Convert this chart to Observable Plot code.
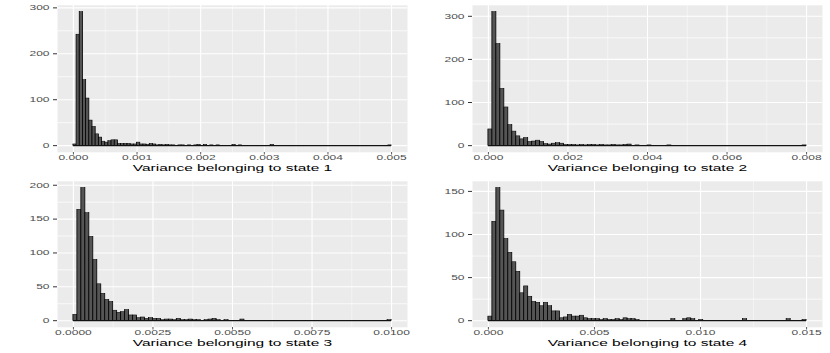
<!DOCTYPE html>
<html>
<head>
<meta charset="utf-8">
<script src="https://cdn.jsdelivr.net/npm/d3@7"></script>
<script src="https://cdn.jsdelivr.net/npm/@observablehq/plot@0.6"></script>
<style>
  body { margin: 0; background: #ffffff; }
  #wrap { position: relative; width: 830px; height: 353px; overflow: hidden; background: #fff; }
  .panel { position: absolute; }
  .panel svg { display: block; }
</style>
</head>
<body>
<div id="wrap"></div>
<script>
// ---- data (histogram counts) ----
const titles = [
  "Variance belonging to state 1",
  "Variance belonging to state 2",
  "Variance belonging to state 3",
  "Variance belonging to state 4"
];

const binWidth1 = 0.00005;
const counts1 = [
  3,242,291,143,103,55,41,25,18,9,
  7,10,12,12,4,4,4,4,3,3,
  7,3,3,2,4,3,1,2,1,2,
  1,1,0,1,1,0,1,0,1,2,
  0,2,0,1,0,1,0,0,0,0,
  2,0,1,0,0,0,0,0,0,0,
  0,0,2,0,0,0,0,0,0,0,
  0,0,0,0,0,0,0,0,0,0,
  0,0,0,0,0,0,0,0,0,0,
  0,0,0,0,0,0,0,0,0,1
];

const binWidth2 = 0.0001;
const counts2 = [
  38,310,236,132,89,48,33,22,15,18,
  9,10,12,9,4,3,5,6,5,2,
  2,2,1,2,1,2,2,1,2,1,
  1,2,1,1,2,3,0,1,0,0,
  1,0,0,0,0,1,0,0,0,0,
  0,0,0,0,0,0,0,0,0,0,
  0,0,0,0,0,0,0,0,0,0,
  0,0,0,0,0,0,0,0,0,1
];

const binWidth3 = 0.000125;
const counts3 = [
  9,164,196,159,124,90,54,40,31,28,
  15,12,13,16,8,8,4,5,3,4,
  3,3,1,2,2,1,3,1,1,2,
  1,1,0,1,2,3,1,0,1,0,
  0,0,2,0,0,0,0,0,0,0,
  0,0,0,0,0,0,0,0,0,0,
  0,0,0,0,0,0,0,0,0,0,
  0,0,0,0,0,0,0,0,0,1
];

const binWidth4 = 0.0001875;
const counts4 = [
  5,115,154,128,95,79,68,57,32,40,
  28,22,21,17,21,17,11,11,3,4,
  7,5,5,6,3,2,2,2,1,2,
  1,1,2,1,3,2,2,1,0,0,
  0,0,0,0,0,0,2,0,0,2,
  3,2,0,1,0,0,0,0,0,0,
  0,0,0,0,2,0,0,0,0,0,
  0,0,0,0,0,2,0,0,0,1
];

const xBreaks1 = [0, 0.001, 0.002, 0.003, 0.004, 0.005];
const xLabels1 = ["0.000", "0.001", "0.002", "0.003", "0.004", "0.005"];
const xBreaks2 = [0, 0.002, 0.004, 0.006, 0.008];
const xLabels2 = ["0.000", "0.002", "0.004", "0.006", "0.008"];
const xBreaks3 = [0, 0.0025, 0.005, 0.0075, 0.01];
const xLabels3 = ["0.0000", "0.0025", "0.0050", "0.0075", "0.0100"];
const xBreaks4 = [0, 0.005, 0.01, 0.015];
const xLabels4 = ["0.000", "0.005", "0.010", "0.015"];

const yBreaks1 = [0, 100, 200, 300];
const yBreaks2 = [0, 100, 200, 300];
const yBreaks3 = [0, 50, 100, 150, 200];
const yBreaks4 = [0, 50, 100, 150];

// ---- drawing ----
const S = 1.6; // the reference is squashed vertically; render taller, then squash
const FONT = "'Liberation Sans', Arial, Helvetica, sans-serif";

function minorOf(breaks, lo, hi) {
  const step = breaks[1] - breaks[0];
  const out = [];
  for (let k = -1; k < breaks.length; k++) {
    const v = breaks[0] + (k + 0.5) * step;
    if (v > lo && v < hi) out.push(v);
  }
  return out;
}

function panel({counts, bw, xBreaks, xLabels, yBreaks, title, left, top, h, mb}) {
  const bins = counts.map((n, i) => ({x0: i * bw, x1: (i + 1) * bw, n}));
  const xmax = bins[bins.length - 1].x1;
  const ymax = d3.max(counts);
  const xDom = [-0.05 * xmax, 1.05 * xmax];
  const yDom = [-0.05 * ymax, 1.05 * ymax];
  const xMinor = minorOf(xBreaks, xDom[0], xDom[1]);
  const yMinor = minorOf(yBreaks, yDom[0], yDom[1]);
  const base = [{y: 0, a: bins[0].x0, b: xmax}];
  const H = h * S;

  const svg = Plot.plot({
    width: 415,
    height: H,
    marginLeft: 57,
    marginRight: 8,
    marginTop: 5 * S,
    marginBottom: mb * S,
    x: {domain: xDom},
    y: {domain: yDom},
    style: {fontFamily: FONT, fontSize: "12px", background: "transparent", overflow: "visible"},
    marks: [
      Plot.frame({fill: "#EBEBEB", stroke: "none"}),
      Plot.ruleX(xMinor, {stroke: "#ffffff", strokeWidth: 0.55}),
      Plot.ruleY(yMinor, {stroke: "#ffffff", strokeWidth: 0.55 * S}),
      Plot.ruleX(xBreaks, {stroke: "#ffffff", strokeWidth: 1.1}),
      Plot.ruleY(yBreaks, {stroke: "#ffffff", strokeWidth: 1.1 * S}),
      Plot.rect(bins, {x1: "x0", x2: "x1", y1: 0, y2: "n", fill: "#555555", stroke: "#000000", strokeWidth: 0.8}),
      Plot.ruleY(base, {y: "y", x1: "a", x2: "b", stroke: "#111111", strokeWidth: 1.3 * S}),
      Plot.axisY(yBreaks, {tickSize: 4, tickPadding: 4, fontSize: 12, color: "#4D4D4D", stroke: "#333333", strokeWidth: 1.0 * S, label: null}),
      Plot.axisX(xBreaks, {tickSize: 4, tickPadding: 0.5, fontSize: 12, color: "#4D4D4D", stroke: "#333333", strokeWidth: 1.0,
        tickFormat: d => xLabels[xBreaks.indexOf(d)], label: null}),
      Plot.text([title], {text: d => d, frameAnchor: "bottom", lineAnchor: "top", dy: 11.6 * S, fontSize: 15.5, fill: "#000000"})
    ]
  });
  svg.setAttribute("viewBox", `0 0 415 ${H}`);
  svg.setAttribute("preserveAspectRatio", "none");
  svg.setAttribute("width", 415);
  svg.setAttribute("height", h);
  svg.style.width = "415px";
  svg.style.height = h + "px";
  const div = document.createElement("div");
  div.className = "panel";
  div.style.left = left + "px";
  div.style.top = top + "px";
  div.appendChild(svg);
  document.getElementById("wrap").appendChild(div);
}

panel({counts: counts1, bw: binWidth1, xBreaks: xBreaks1, xLabels: xLabels1, yBreaks: yBreaks1, title: titles[0], left: 0,   top: 0,   h: 176, mb: 24});
panel({counts: counts2, bw: binWidth2, xBreaks: xBreaks2, xLabels: xLabels2, yBreaks: yBreaks2, title: titles[1], left: 415, top: 0,   h: 176, mb: 24});
panel({counts: counts3, bw: binWidth3, xBreaks: xBreaks3, xLabels: xLabels3, yBreaks: yBreaks3, title: titles[2], left: 0,   top: 176, h: 177, mb: 26});
panel({counts: counts4, bw: binWidth4, xBreaks: xBreaks4, xLabels: xLabels4, yBreaks: yBreaks4, title: titles[3], left: 415, top: 176, h: 177, mb: 26});
</script>
</body>
</html>
